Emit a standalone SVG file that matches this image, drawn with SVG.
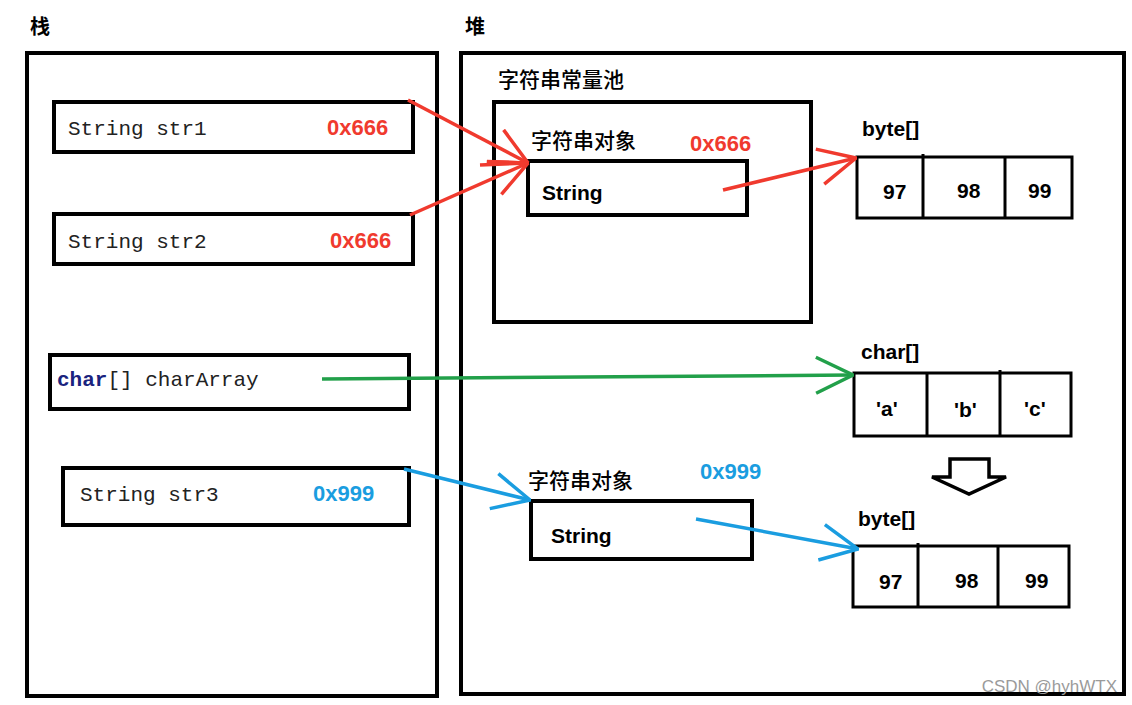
<svg xmlns="http://www.w3.org/2000/svg" width="1132" height="705" viewBox="0 0 1132 705">
<style>
.box{fill:none;stroke:#000;stroke-width:4}
.cell{fill:none;stroke:#000;stroke-width:3}
.mono{font-family:"Liberation Mono","DejaVu Sans Mono",monospace;font-size:21px;fill:#222}
.cjk{font-family:"Noto Sans CJK SC",sans-serif;font-size:21px;font-weight:500;fill:#000}
.cjkb{font-family:"Noto Sans CJK SC",sans-serif;font-size:20px;font-weight:bold;fill:#000}
.b{font-family:"Liberation Sans","Noto Sans CJK SC",sans-serif;font-size:21px;font-weight:bold;fill:#000}
.red{font-family:"Liberation Sans",sans-serif;font-size:22px;font-weight:bold;fill:#f03a2e}
.blue{font-family:"Liberation Sans",sans-serif;font-size:22px;font-weight:bold;fill:#1a9de0}
.cr{fill:none;stroke:#f03a2e;stroke-width:3.5}
.cg{fill:none;stroke:#22a04a;stroke-width:3.5}
.cb{fill:none;stroke:#1a9de0;stroke-width:3.5}
</style>
<defs>
<marker id="ar" markerUnits="userSpaceOnUse" viewBox="0 0 40 40" refX="39" refY="20" markerWidth="40" markerHeight="40" orient="auto"><path d="M2,2 L39,20 L2,38" fill="none" stroke="#f03a2e" stroke-width="3.5"/></marker>
<marker id="ag" markerUnits="userSpaceOnUse" viewBox="0 0 40 40" refX="39" refY="20" markerWidth="40" markerHeight="40" orient="auto"><path d="M2,2 L39,20 L2,38" fill="none" stroke="#22a04a" stroke-width="3.5"/></marker>
<marker id="ab" markerUnits="userSpaceOnUse" viewBox="0 0 40 40" refX="39" refY="20" markerWidth="40" markerHeight="40" orient="auto"><path d="M2,2 L39,20 L2,38" fill="none" stroke="#1a9de0" stroke-width="3.5"/></marker>
</defs>
<rect width="1132" height="705" fill="#fff"/>

<g id="stack">
<text class="cjkb" x="30" y="34">栈</text>
<rect class="box" x="27" y="53" width="410" height="643"/>
</g>
<g id="heap">
<text class="cjkb" x="465" y="34">堆</text>
<rect class="box" x="461" y="53" width="663" height="641"/>
</g>

<g id="str1">
<rect class="box" x="54" y="102" width="359" height="50"/>
<text class="mono" x="68" y="135">String str1</text>
<text class="red" x="327" y="135">0x666</text>
</g>
<g id="str2">
<rect class="box" x="54" y="214" width="359" height="50"/>
<text class="mono" x="68" y="248">String str2</text>
<text class="red" x="330" y="248">0x666</text>
</g>
<g id="charArray">
<rect class="box" x="50" y="355" width="359" height="54"/>
<text class="mono" x="57" y="386"><tspan font-weight="bold" fill="#1a237e">char</tspan>[] charArray</text>
</g>
<g id="str3">
<rect class="box" x="63" y="468" width="346" height="57"/>
<text class="mono" x="80" y="501">String str3</text>
<text class="blue" x="313" y="501">0x999</text>
</g>

<g id="pool">
<text class="cjk" x="498" y="87">字符串常量池</text>
<rect class="box" x="494" y="102" width="317" height="220"/>
</g>
<g id="strObj1">
<text class="cjk" x="531" y="148">字符串对象</text>
<text class="red" x="690" y="151">0x666</text>
<rect class="box" x="528" y="161" width="219" height="54"/>
<text class="b" x="542" y="200">String</text>
</g>
<g id="byte1">
<text class="b" x="862" y="136">byte[]</text>
<rect class="cell" x="857" y="157" width="215" height="61"/>
<line class="cell" x1="923" y1="154" x2="923" y2="218"/>
<line class="cell" x1="1005" y1="157" x2="1005" y2="218"/>
<text class="b" x="883" y="199">97</text>
<text class="b" x="957" y="198">98</text>
<text class="b" x="1028" y="198">99</text>
</g>
<g id="charArr">
<text class="b" x="861" y="359">char[]</text>
<rect class="cell" x="854" y="373" width="217" height="63"/>
<line class="cell" x1="927" y1="373" x2="927" y2="436"/>
<line class="cell" x1="1000" y1="370" x2="1000" y2="436"/>
<text class="b" x="876" y="416">'a'</text>
<text class="b" x="954" y="417">'b'</text>
<text class="b" x="1024" y="416">'c'</text>
</g>
<g id="convert">
<path d="M950,459 L989,459 L989,477 L1006,477 L969,494 L932,477 L950,477 Z" fill="#fff" stroke="#000" stroke-width="3.5"/>
</g>
<g id="strObj2">
<text class="cjk" x="528" y="488">字符串对象</text>
<text class="blue" x="700" y="479">0x999</text>
<rect class="box" x="531" y="501" width="221" height="58"/>
<text class="b" x="551" y="543">String</text>
</g>
<g id="byte2">
<text class="b" x="858" y="526">byte[]</text>
<rect class="cell" x="853" y="546" width="216" height="61"/>
<line class="cell" x1="918" y1="543" x2="918" y2="607"/>
<line class="cell" x1="998" y1="546" x2="998" y2="607"/>
<text class="b" x="879" y="589">97</text>
<text class="b" x="955" y="588">98</text>
<text class="b" x="1025" y="588">99</text>
</g>

<g id="connectors">
<path class="cr" d="M408,100 L528,163" marker-end="url(#ar)"/>
<path class="cr" d="M410,215 L528,163" marker-end="url(#ar)"/>
<path class="cr" d="M480,165 L528,163"/>
<path class="cr" d="M723,190 L856,158" marker-end="url(#ar)"/>
<path class="cg" d="M322,379 L853,375" marker-end="url(#ag)"/>
<path class="cb" d="M404,469 L530,500" marker-end="url(#ab)"/>
<path class="cb" d="M696,519 L858,549" marker-end="url(#ab)"/>
</g>

<text x="1117" y="692" text-anchor="end" font-family="Liberation Sans,sans-serif" font-size="17" fill="#9a9a9a">CSDN @hyhWTX</text>
</svg>
